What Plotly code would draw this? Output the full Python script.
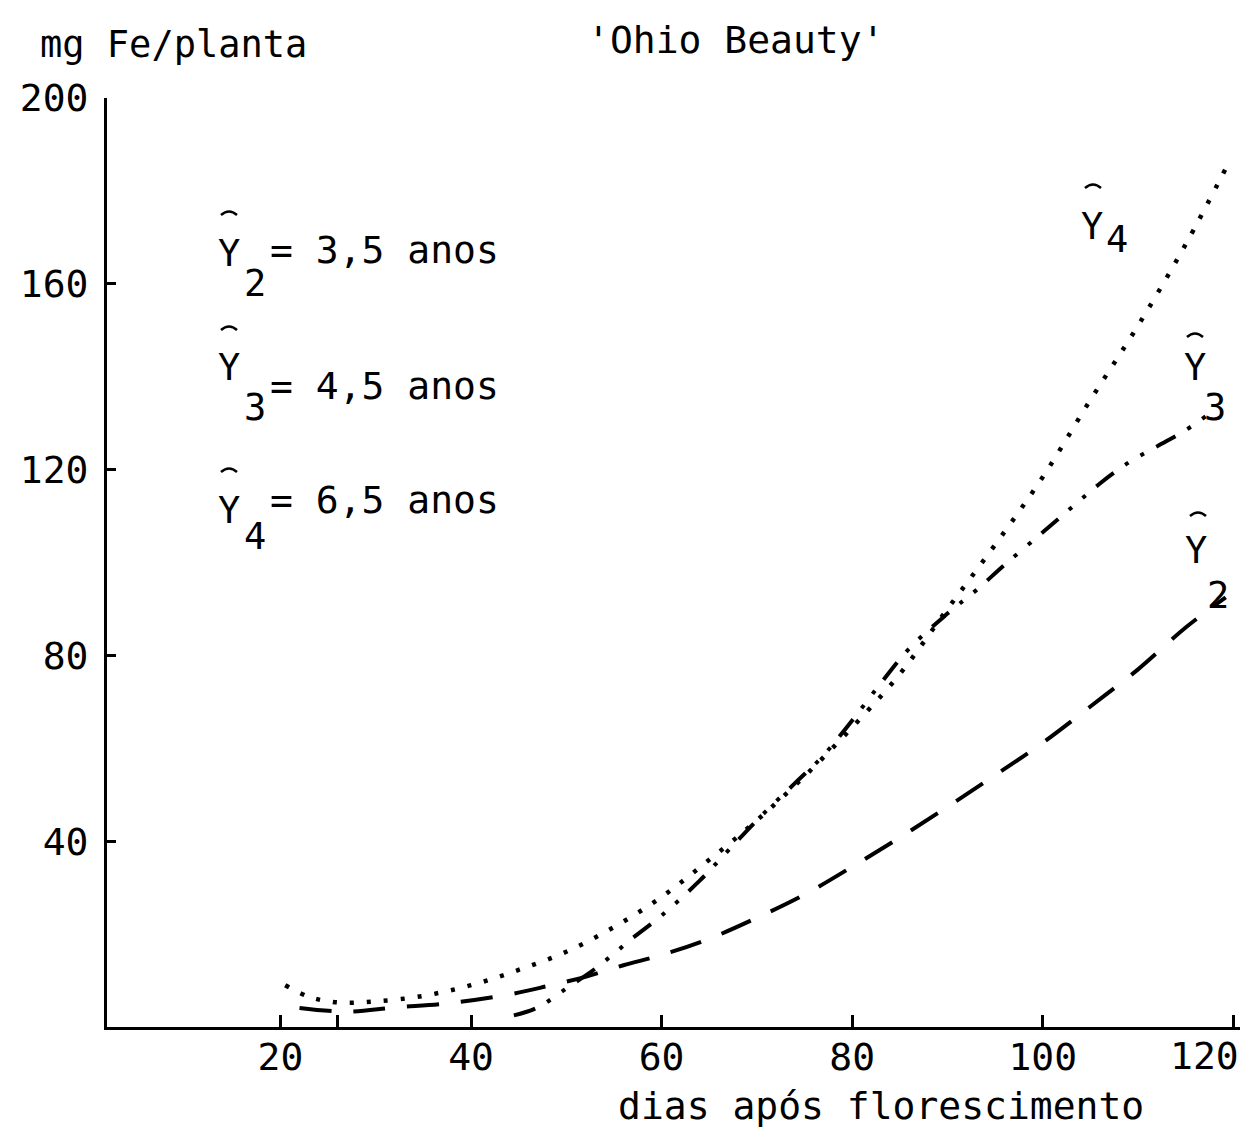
import plotly.graph_objects as go

# Fe accumulation (mg Fe/plant) versus days after flowering, 'Ohio Beauty'
days_y2 = [22, 27, 32, 38, 44, 48, 52, 56, 60, 65, 70, 75, 80, 85, 90, 95, 100, 105, 110, 115, 119.2]
fe_y2 = [4.1, 3.3, 4.2, 5.2, 7.0, 8.8, 10.8, 13.3, 15.5, 19.0, 23.5, 28.5, 34.5, 40.8, 47.4, 54.2, 61.2, 69.0, 77.0, 86.0, 92.5]

days_y3 = [44.5, 47, 50, 53, 55, 57, 60, 64, 67, 70, 74, 77, 80, 83, 86, 90, 93, 96, 100, 103, 106, 109, 112, 115, 118]
fe_y3 = [2.5, 4.2, 8.3, 12.5, 15.8, 19.2, 24.0, 31.5, 38.0, 44.5, 52.5, 58.5, 66.0, 74.0, 81.5, 89.0, 94.0, 99.5, 106.5, 111.8, 117.0, 121.5, 125.0, 128.5, 132.8]

days_y4 = [20.5, 23, 26, 30, 35, 40, 45, 50, 55, 60, 65, 70, 75, 80, 85, 90, 95, 100, 105, 110, 115, 119.5]
fe_y4 = [9.0, 6.5, 5.3, 5.5, 6.7, 9.0, 12.3, 16.2, 21.5, 28.0, 36.0, 44.5, 54.0, 64.5, 76.0, 90.0, 103.8, 118.4, 135.0, 151.0, 168.5, 186.0]

x_tickvals = [20, 26, 40, 60, 80, 100, 120]
x_ticktext = ["20", "", "40", "60", "80", "100", ""]
x_last_tick = 120
y_tickvals = [40, 80, 120, 160, 200]
y_ticktext = ["40", "80", "120", "160", "200"]

legend_lines = [("2", "= 3,5 anos"), ("3", "= 4,5 anos"), ("4", "= 6,5 anos")]

FONT = "DejaVu Sans Mono"
W, H = 1244, 1128
L, R, T, B = 107, 4, 98, 101
PW, PH = W - L - R, H - T - B


def px(x):
    return (x - L) / PW


def py(y):
    return (H - B - y) / PH


fig = go.Figure()

fig.add_trace(go.Scatter(x=days_y2, y=fe_y2, mode="lines",
                         line=dict(color="black", width=4, dash="32px,22px", shape="spline", smoothing=1.0)))
fig.add_trace(go.Scatter(x=days_y3, y=fe_y3, mode="lines",
                         line=dict(color="black", width=4, dash="22px,14px,4px,14px,4px,14px",
                                   shape="spline", smoothing=1.0)))
fig.add_trace(go.Scatter(x=days_y4, y=fe_y4, mode="lines",
                         line=dict(color="black", width=4.5, dash="4px,13px", shape="spline", smoothing=1.0)))

annotations = []
shapes = []


def text_at(text, x, y, size=38, xanchor="center", yanchor="middle"):
    annotations.append(dict(text=text, x=px(x), y=py(y), xref="paper", yref="paper",
                            xanchor=xanchor, yanchor=yanchor, showarrow=False,
                            font=dict(family=FONT, size=size, color="black")))


def hat(xc, y, half=8):
    x0, x1 = px(xc - half), px(xc + half)
    y0, yc = py(y + 2), py(y - 5)
    shapes.append(dict(type="path", xref="paper", yref="paper",
                       path=f"M {x0},{y0} Q {px(xc)},{yc} {x1},{y0}",
                       line=dict(color="black", width=2.5)))


# headings and axis title
text_at("mg Fe/planta", 38, 45, size=37, xanchor="left")
text_at("'Ohio Beauty'", 735, 40, size=38)
text_at("dias após florescimento", 881, 1106, size=38)

# last x tick label, kept inside the page edge
annotations.append(dict(text=str(x_last_tick), x=x_last_tick, xref="x", xshift=-29,
                        y=py(1056), yref="paper", xanchor="center", yanchor="middle",
                        showarrow=False, font=dict(family=FONT, size=38, color="black")))

# legend block on the left: (Y centre, subscript centre, text centre)
rows = [(253, 283, 250), (368, 408, 386), (510, 536, 500)]
for (sub, rest), (y_Y, y_sub, y_txt) in zip(legend_lines, rows):
    hat(229, y_Y - 40)
    text_at("Y", 229, y_Y, size=37)
    text_at(sub, 255, y_sub, size=37)
    text_at(rest, 268, y_txt, size=38, xanchor="left")

# curve labels
hat(1093, 186)
text_at("Y", 1092, 226, size=37)
text_at("4", 1117, 240, size=37)
hat(1195, 335)
text_at("Y", 1195, 368, size=37)
text_at("3", 1215, 408, size=37)
hat(1198, 514)
text_at("Y", 1196, 550, size=37)
text_at("2", 1218, 595, size=37)

fig.update_layout(
    width=W, height=H, autosize=False,
    margin=dict(l=L, r=R, t=T, b=B, pad=0, autoexpand=False),
    paper_bgcolor="white", plot_bgcolor="white",
    showlegend=False,
    annotations=annotations,
    shapes=shapes,
    xaxis=dict(range=[1.8, 120.7], showgrid=False, zeroline=False, automargin=False,
               showline=True, linecolor="black", linewidth=3,
               ticks="inside", ticklen=12, tickwidth=3, tickcolor="black",
               tickvals=x_tickvals, ticktext=x_ticktext, ticklabelstandoff=-6,
               ticklabeloverflow="allow",
               tickfont=dict(family=FONT, size=38, color="black")),
    yaxis=dict(range=[0, 200], showgrid=False, zeroline=False, automargin=False,
               showline=True, linecolor="black", linewidth=3,
               ticks="inside", ticklen=9, tickwidth=3, tickcolor="black",
               tickvals=y_tickvals, ticktext=y_ticktext, ticklabelstandoff=8,
               tickfont=dict(family=FONT, size=38, color="black")),
)

fig.write_html("out.html")
